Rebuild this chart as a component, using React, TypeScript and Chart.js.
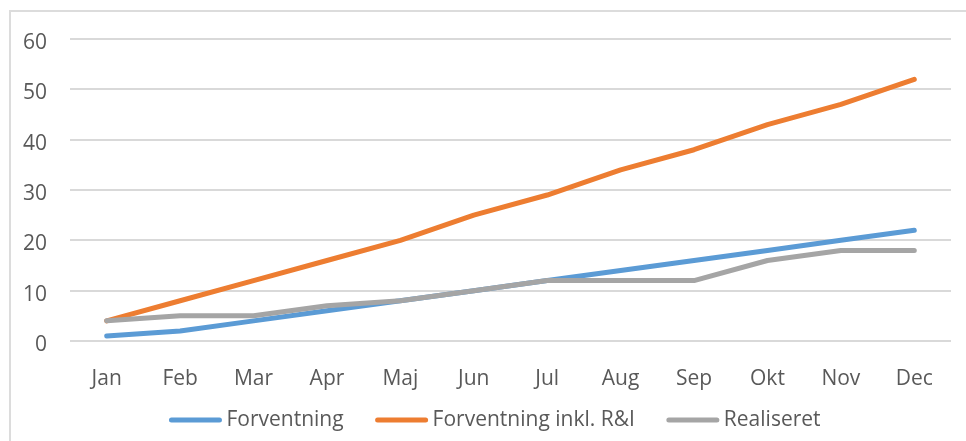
import React, { useEffect, useRef } from "react";
import { Chart, registerables } from "chart.js";

Chart.register(...registerables);

const months = ["Jan", "Feb", "Mar", "Apr", "Maj", "Jun", "Jul", "Aug", "Sep", "Okt", "Nov", "Dec"];
const forventning = [1, 2, 4, 6, 8, 10, 12, 14, 16, 18, 20, 22];
const forventningRI = [4, 8, 12, 16, 20, 25, 29, 34, 38, 43, 47, 52];
const realiseret = [4, 5, 5, 7, 8, 10, 12, 12, 12, 16, 18, 18];
const seriesNames = ["Forventning", "Forventning inkl. R&I", "Realiseret"];
const seriesColors = ["#5b9bd5", "#ed7d31", "#a5a5a5"];

const FONT = "'Open Sans', 'Noto Sans', sans-serif";
const TEXT = "#595959";

const legendPlugin = {
  id: "customLegend",
  afterDraw(chart: any) {
    const ctx = chart.ctx;
    ctx.save();
    ctx.font = `21px ${FONT}`;
    ctx.textBaseline = "middle";
    const lineLen = 52;
    const gapText = 5;
    const gapItem = 32;
    const items = chart.data.datasets.map((d: any) => ({
      label: d.label,
      color: d.borderColor,
      w: ctx.measureText(d.label).width,
    }));
    const total = items.reduce((s: number, it: any) => s + lineLen + gapText + it.w, 0) + gapItem * (items.length - 1);
    let x = 495 - total / 2;
    const y = 420;
    for (const it of items) {
      ctx.strokeStyle = it.color;
      ctx.lineWidth = 5;
      ctx.lineCap = "round";
      ctx.beginPath();
      ctx.moveTo(x + 2, y);
      ctx.lineTo(x + lineLen - 2, y);
      ctx.stroke();
      x += lineLen + gapText;
      ctx.fillStyle = TEXT;
      ctx.textAlign = "left";
      ctx.fillText(it.label, x, y);
      x += it.w + gapItem;
    }
    ctx.restore();
  },
};

export default function App() {
  const ref = useRef<HTMLCanvasElement>(null);
  useEffect(() => {
    if (!ref.current) return;
    const values = [forventning, forventningRI, realiseret];
    const chart = new Chart(ref.current, {
      type: "line",
      data: {
        labels: months,
        datasets: values.map((v, i) => ({
          label: seriesNames[i],
          data: v,
          borderColor: seriesColors[i],
          backgroundColor: seriesColors[i],
          borderWidth: 5,
          pointRadius: 0,
          tension: 0,
          borderCapStyle: "round",
          borderJoinStyle: "round",
          order: 3 - i,
        })),
      },
      options: {
        animation: false,
        responsive: false,
        maintainAspectRatio: false,
        layout: { padding: { left: 0, right: 15, top: 39, bottom: 40 } },
        plugins: { legend: { display: false }, tooltip: { enabled: false } },
        scales: {
          x: {
            offset: true,
            grid: { display: false, drawTicks: false },
            border: { display: false },
            ticks: { color: TEXT, font: { family: FONT, size: 21 }, padding: 25, maxRotation: 0 },
            afterFit: (s: any) => { s.height = 60; },
          },
          y: {
            min: 0,
            max: 60,
            ticks: { stepSize: 10, color: TEXT, font: { family: FONT, size: 21 }, padding: 23, labelOffset: 4 },
            grid: { color: "#d9d9d9", lineWidth: 2, drawTicks: false },
            border: { display: false },
            afterFit: (s: any) => { s.width = 70; },
          },
        },
      },
      plugins: [legendPlugin],
    });
    return () => chart.destroy();
  }, []);
  return (
    <div>
      <div
        style={{
          position: "fixed",
          left: 9,
          top: 10,
          width: 1100,
          height: 600,
          border: "2px solid #dcdcdc",
          boxSizing: "border-box",
        }}
      />
      <canvas
        ref={ref}
        width={966}
        height={441}
        style={{ position: "fixed", left: 0, top: 0, width: 966, height: 441 }}
      />
    </div>
  );
}
